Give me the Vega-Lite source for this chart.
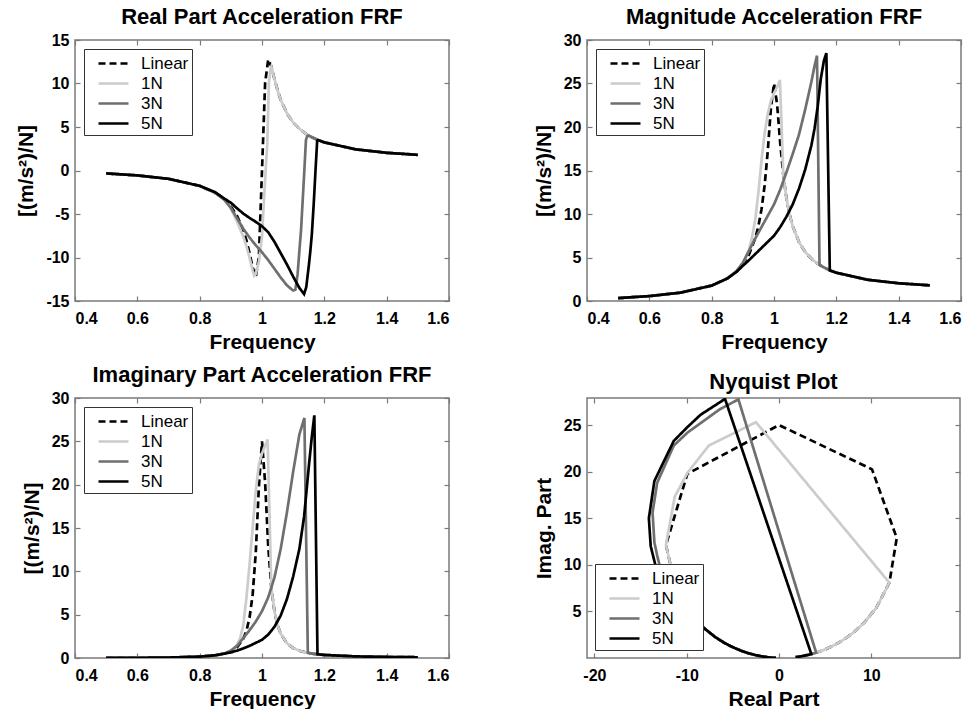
{
"$schema": "https://vega.github.io/schema/vega-lite/v6.json",
"padding": {"left": 15, "top": 5, "right": 0, "bottom": 0},
"columns": 2,
"spacing": {"row": 97, "column": 138},
"bounds": "flush",
"datasets": {
"re": [
{"s":"Linear","f":0.5,"v":-0.333},{"s":"Linear","f":0.6,"v":-0.562},{"s":"Linear","f":0.7,"v":-0.958},{"s":"Linear","f":0.8,"v":-1.764},{"s":"Linear","f":0.85,"v":-2.565},{"s":"Linear","f":0.88,"v":-3.351},{"s":"Linear","f":0.9,"v":-4.115},{"s":"Linear","f":0.92,"v":-5.211},{"s":"Linear","f":0.94,"v":-6.874},{"s":"Linear","f":0.95,"v":-8.036},{"s":"Linear","f":0.96,"v":-9.481},{"s":"Linear","f":0.97,"v":-11.126},{"s":"Linear","f":0.98,"v":-12.249},{"s":"Linear","f":0.99,"v":-9.93},{"s":"Linear","f":1.0,"v":0},{"s":"Linear","f":1.01,"v":10.07},{"s":"Linear","f":1.02,"v":12.749},{"s":"Linear","f":1.03,"v":11.951},{"s":"Linear","f":1.04,"v":10.521},{"s":"Linear","f":1.05,"v":9.21},{"s":"Linear","f":1.06,"v":8.134},{"s":"Linear","f":1.08,"v":6.567},{"s":"Linear","f":1.1,"v":5.52},{"s":"Linear","f":1.12,"v":4.783},{"s":"Linear","f":1.14,"v":4.24},{"s":"Linear","f":1.16,"v":3.825},{"s":"Linear","f":1.18,"v":3.498},{"s":"Linear","f":1.2,"v":3.234},{"s":"Linear","f":1.3,"v":2.435},{"s":"Linear","f":1.4,"v":2.035},{"s":"Linear","f":1.5,"v":1.796},
{"s":"1N","f":0.5,"v":-0.333},{"s":"1N","f":0.6,"v":-0.562},{"s":"1N","f":0.7,"v":-0.958},{"s":"1N","f":0.8,"v":-1.764},{"s":"1N","f":0.85,"v":-2.565},{"s":"1N","f":0.88,"v":-3.351},{"s":"1N","f":0.9,"v":-4.35},{"s":"1N","f":0.92,"v":-5.9},{"s":"1N","f":0.94,"v":-7.6},{"s":"1N","f":0.95,"v":-8.7},{"s":"1N","f":0.96,"v":-10.0},{"s":"1N","f":0.97,"v":-11.5},{"s":"1N","f":0.975,"v":-12.1},{"s":"1N","f":0.98,"v":-11.9},{"s":"1N","f":0.99,"v":-10.5},{"s":"1N","f":1.0,"v":-7.6},{"s":"1N","f":1.006,"v":-3.6},{"s":"1N","f":1.012,"v":0.2},{"s":"1N","f":1.017,"v":3.0},{"s":"1N","f":1.022,"v":10.0},{"s":"1N","f":1.027,"v":11.6},{"s":"1N","f":1.03,"v":11.951},{"s":"1N","f":1.04,"v":10.521},{"s":"1N","f":1.05,"v":9.21},{"s":"1N","f":1.06,"v":8.134},{"s":"1N","f":1.08,"v":6.567},{"s":"1N","f":1.1,"v":5.52},{"s":"1N","f":1.12,"v":4.783},{"s":"1N","f":1.14,"v":4.24},{"s":"1N","f":1.16,"v":3.825},{"s":"1N","f":1.18,"v":3.498},{"s":"1N","f":1.2,"v":3.234},{"s":"1N","f":1.3,"v":2.435},{"s":"1N","f":1.4,"v":2.035},{"s":"1N","f":1.5,"v":1.796},
{"s":"3N","f":0.5,"v":-0.333},{"s":"3N","f":0.6,"v":-0.562},{"s":"3N","f":0.7,"v":-0.958},{"s":"3N","f":0.8,"v":-1.764},{"s":"3N","f":0.85,"v":-2.565},{"s":"3N","f":0.88,"v":-3.4},{"s":"3N","f":0.9,"v":-4.3},{"s":"3N","f":0.92,"v":-5.5},{"s":"3N","f":0.94,"v":-6.7},{"s":"3N","f":0.96,"v":-7.7},{"s":"3N","f":0.98,"v":-8.6},{"s":"3N","f":1.0,"v":-9.4},{"s":"3N","f":1.02,"v":-10.3},{"s":"3N","f":1.04,"v":-11.3},{"s":"3N","f":1.06,"v":-12.3},{"s":"3N","f":1.08,"v":-13.2},{"s":"3N","f":1.1,"v":-13.8},{"s":"3N","f":1.107,"v":-13.7},{"s":"3N","f":1.114,"v":-12.0},{"s":"3N","f":1.12,"v":-9.2},{"s":"3N","f":1.125,"v":-7.0},{"s":"3N","f":1.13,"v":-3.8},{"s":"3N","f":1.135,"v":-0.6},{"s":"3N","f":1.141,"v":3.5},{"s":"3N","f":1.145,"v":3.95},{"s":"3N","f":1.15,"v":4.019},{"s":"3N","f":1.16,"v":3.825},{"s":"3N","f":1.18,"v":3.498},{"s":"3N","f":1.2,"v":3.234},{"s":"3N","f":1.3,"v":2.435},{"s":"3N","f":1.4,"v":2.035},{"s":"3N","f":1.5,"v":1.796},
{"s":"5N","f":0.5,"v":-0.333},{"s":"5N","f":0.6,"v":-0.562},{"s":"5N","f":0.7,"v":-0.958},{"s":"5N","f":0.8,"v":-1.764},{"s":"5N","f":0.85,"v":-2.5},{"s":"5N","f":0.88,"v":-3.25},{"s":"5N","f":0.9,"v":-3.7},{"s":"5N","f":0.92,"v":-4.35},{"s":"5N","f":0.94,"v":-4.95},{"s":"5N","f":0.96,"v":-5.45},{"s":"5N","f":0.98,"v":-5.9},{"s":"5N","f":1.0,"v":-6.4},{"s":"5N","f":1.02,"v":-7.1},{"s":"5N","f":1.04,"v":-8.2},{"s":"5N","f":1.06,"v":-9.5},{"s":"5N","f":1.08,"v":-10.8},{"s":"5N","f":1.1,"v":-12.2},{"s":"5N","f":1.12,"v":-13.5},{"s":"5N","f":1.135,"v":-14.2},{"s":"5N","f":1.142,"v":-13.4},{"s":"5N","f":1.15,"v":-11.0},{"s":"5N","f":1.155,"v":-9.3},{"s":"5N","f":1.16,"v":-7.3},{"s":"5N","f":1.166,"v":-3.8},{"s":"5N","f":1.172,"v":0.2},{"s":"5N","f":1.177,"v":3.4},{"s":"5N","f":1.18,"v":3.498},{"s":"5N","f":1.2,"v":3.234},{"s":"5N","f":1.3,"v":2.435},{"s":"5N","f":1.4,"v":2.035},{"s":"5N","f":1.5,"v":1.796}
],
"mg": [
{"s":"Linear","f":0.5,"v":0.333},{"s":"Linear","f":0.6,"v":0.562},{"s":"Linear","f":0.7,"v":0.959},{"s":"Linear","f":0.8,"v":1.771},{"s":"Linear","f":0.85,"v":2.584},{"s":"Linear","f":0.88,"v":3.392},{"s":"Linear","f":0.9,"v":4.189},{"s":"Linear","f":0.92,"v":5.359},{"s":"Linear","f":0.94,"v":7.224},{"s":"Linear","f":0.95,"v":8.625},{"s":"Linear","f":0.96,"v":10.557},{"s":"Linear","f":0.97,"v":13.31},{"s":"Linear","f":0.98,"v":17.236},{"s":"Linear","f":0.99,"v":22.115},{"s":"Linear","f":1.0,"v":25.0},{"s":"Linear","f":1.01,"v":22.607},{"s":"Linear","f":1.02,"v":18.12},{"s":"Linear","f":1.03,"v":14.429},{"s":"Linear","f":1.04,"v":11.809},{"s":"Linear","f":1.05,"v":9.953},{"s":"Linear","f":1.06,"v":8.599},{"s":"Linear","f":1.08,"v":6.785},{"s":"Linear","f":1.1,"v":5.639},{"s":"Linear","f":1.12,"v":4.856},{"s":"Linear","f":1.14,"v":4.288},{"s":"Linear","f":1.16,"v":3.859},{"s":"Linear","f":1.18,"v":3.523},{"s":"Linear","f":1.2,"v":3.253},{"s":"Linear","f":1.3,"v":2.442},{"s":"Linear","f":1.4,"v":2.038},{"s":"Linear","f":1.5,"v":1.798},
{"s":"1N","f":0.5,"v":0.333},{"s":"1N","f":0.6,"v":0.562},{"s":"1N","f":0.7,"v":0.959},{"s":"1N","f":0.8,"v":1.771},{"s":"1N","f":0.85,"v":2.584},{"s":"1N","f":0.88,"v":3.392},{"s":"1N","f":0.9,"v":4.25},{"s":"1N","f":0.92,"v":5.9},{"s":"1N","f":0.93,"v":7.4},{"s":"1N","f":0.94,"v":9.4},{"s":"1N","f":0.95,"v":12.5},{"s":"1N","f":0.96,"v":16.2},{"s":"1N","f":0.97,"v":19.3},{"s":"1N","f":0.98,"v":21.5},{"s":"1N","f":0.99,"v":23.0},{"s":"1N","f":1.0,"v":23.9},{"s":"1N","f":1.01,"v":24.6},{"s":"1N","f":1.019,"v":25.4},{"s":"1N","f":1.03,"v":14.429},{"s":"1N","f":1.04,"v":11.809},{"s":"1N","f":1.05,"v":9.953},{"s":"1N","f":1.06,"v":8.599},{"s":"1N","f":1.08,"v":6.785},{"s":"1N","f":1.1,"v":5.639},{"s":"1N","f":1.12,"v":4.856},{"s":"1N","f":1.14,"v":4.288},{"s":"1N","f":1.16,"v":3.859},{"s":"1N","f":1.18,"v":3.523},{"s":"1N","f":1.2,"v":3.253},{"s":"1N","f":1.3,"v":2.442},{"s":"1N","f":1.4,"v":2.038},{"s":"1N","f":1.5,"v":1.798},
{"s":"3N","f":0.5,"v":0.333},{"s":"3N","f":0.6,"v":0.562},{"s":"3N","f":0.7,"v":0.959},{"s":"3N","f":0.8,"v":1.771},{"s":"3N","f":0.85,"v":2.584},{"s":"3N","f":0.88,"v":3.45},{"s":"3N","f":0.9,"v":4.4},{"s":"3N","f":0.92,"v":5.8},{"s":"3N","f":0.94,"v":7.2},{"s":"3N","f":0.96,"v":8.5},{"s":"3N","f":0.98,"v":9.8},{"s":"3N","f":1.0,"v":11.1},{"s":"3N","f":1.02,"v":12.8},{"s":"3N","f":1.04,"v":14.8},{"s":"3N","f":1.06,"v":16.9},{"s":"3N","f":1.08,"v":19.1},{"s":"3N","f":1.1,"v":22.0},{"s":"3N","f":1.12,"v":25.2},{"s":"3N","f":1.13,"v":27.0},{"s":"3N","f":1.138,"v":28.2},{"s":"3N","f":1.146,"v":4.15},{"s":"3N","f":1.16,"v":3.859},{"s":"3N","f":1.18,"v":3.523},{"s":"3N","f":1.2,"v":3.253},{"s":"3N","f":1.3,"v":2.442},{"s":"3N","f":1.4,"v":2.038},{"s":"3N","f":1.5,"v":1.798},
{"s":"5N","f":0.5,"v":0.333},{"s":"5N","f":0.6,"v":0.562},{"s":"5N","f":0.7,"v":0.959},{"s":"5N","f":0.8,"v":1.771},{"s":"5N","f":0.85,"v":2.584},{"s":"5N","f":0.88,"v":3.35},{"s":"5N","f":0.9,"v":4.05},{"s":"5N","f":0.92,"v":4.7},{"s":"5N","f":0.94,"v":5.4},{"s":"5N","f":0.96,"v":6.1},{"s":"5N","f":0.98,"v":6.8},{"s":"5N","f":1.0,"v":7.5},{"s":"5N","f":1.02,"v":8.5},{"s":"5N","f":1.04,"v":9.7},{"s":"5N","f":1.06,"v":11.1},{"s":"5N","f":1.08,"v":12.9},{"s":"5N","f":1.1,"v":15.1},{"s":"5N","f":1.12,"v":17.9},{"s":"5N","f":1.13,"v":19.8},{"s":"5N","f":1.14,"v":22.3},{"s":"5N","f":1.15,"v":25.5},{"s":"5N","f":1.16,"v":27.6},{"s":"5N","f":1.168,"v":28.5},{"s":"5N","f":1.179,"v":3.51},{"s":"5N","f":1.2,"v":3.253},{"s":"5N","f":1.3,"v":2.442},{"s":"5N","f":1.4,"v":2.038},{"s":"5N","f":1.5,"v":1.798}
],
"im": [
{"s":"Linear","f":0.5,"v":0.009},{"s":"Linear","f":0.6,"v":0.021},{"s":"Linear","f":0.7,"v":0.053},{"s":"Linear","f":0.8,"v":0.157},{"s":"Linear","f":0.85,"v":0.314},{"s":"Linear","f":0.88,"v":0.523},{"s":"Linear","f":0.9,"v":0.78},{"s":"Linear","f":0.92,"v":1.249},{"s":"Linear","f":0.94,"v":2.22},{"s":"Linear","f":0.95,"v":3.132},{"s":"Linear","f":0.96,"v":4.644},{"s":"Linear","f":0.97,"v":7.304},{"s":"Linear","f":0.98,"v":12.126},{"s":"Linear","f":0.99,"v":19.76},{"s":"Linear","f":1.0,"v":25.0},{"s":"Linear","f":1.01,"v":20.24},{"s":"Linear","f":1.02,"v":12.876},{"s":"Linear","f":1.03,"v":8.085},{"s":"Linear","f":1.04,"v":5.363},{"s":"Linear","f":1.05,"v":3.774},{"s":"Linear","f":1.06,"v":2.79},{"s":"Linear","f":1.08,"v":1.705},{"s":"Linear","f":1.1,"v":1.157},{"s":"Linear","f":1.12,"v":0.842},{"s":"Linear","f":1.14,"v":0.645},{"s":"Linear","f":1.16,"v":0.514},{"s":"Linear","f":1.18,"v":0.421},{"s":"Linear","f":1.2,"v":0.353},{"s":"Linear","f":1.3,"v":0.184},{"s":"Linear","f":1.4,"v":0.119},{"s":"Linear","f":1.5,"v":0.086},
{"s":"1N","f":0.5,"v":0.009},{"s":"1N","f":0.6,"v":0.021},{"s":"1N","f":0.7,"v":0.053},{"s":"1N","f":0.8,"v":0.157},{"s":"1N","f":0.85,"v":0.314},{"s":"1N","f":0.88,"v":0.523},{"s":"1N","f":0.9,"v":0.8},{"s":"1N","f":0.92,"v":1.5},{"s":"1N","f":0.93,"v":2.3},{"s":"1N","f":0.94,"v":3.8},{"s":"1N","f":0.95,"v":6.9},{"s":"1N","f":0.96,"v":10.8},{"s":"1N","f":0.97,"v":15.0},{"s":"1N","f":0.98,"v":19.3},{"s":"1N","f":0.99,"v":22.3},{"s":"1N","f":1.0,"v":23.6},{"s":"1N","f":1.01,"v":24.5},{"s":"1N","f":1.018,"v":25.2},{"s":"1N","f":1.03,"v":8.085},{"s":"1N","f":1.04,"v":5.363},{"s":"1N","f":1.05,"v":3.774},{"s":"1N","f":1.06,"v":2.79},{"s":"1N","f":1.08,"v":1.705},{"s":"1N","f":1.1,"v":1.157},{"s":"1N","f":1.12,"v":0.842},{"s":"1N","f":1.14,"v":0.645},{"s":"1N","f":1.16,"v":0.514},{"s":"1N","f":1.18,"v":0.421},{"s":"1N","f":1.2,"v":0.353},{"s":"1N","f":1.3,"v":0.184},{"s":"1N","f":1.4,"v":0.119},{"s":"1N","f":1.5,"v":0.086},
{"s":"3N","f":0.5,"v":0.009},{"s":"3N","f":0.6,"v":0.021},{"s":"3N","f":0.7,"v":0.053},{"s":"3N","f":0.8,"v":0.157},{"s":"3N","f":0.85,"v":0.314},{"s":"3N","f":0.88,"v":0.53},{"s":"3N","f":0.9,"v":0.85},{"s":"3N","f":0.92,"v":1.4},{"s":"3N","f":0.94,"v":2.3},{"s":"3N","f":0.96,"v":3.2},{"s":"3N","f":0.98,"v":4.2},{"s":"3N","f":1.0,"v":5.4},{"s":"3N","f":1.02,"v":7.0},{"s":"3N","f":1.04,"v":9.3},{"s":"3N","f":1.06,"v":12.6},{"s":"3N","f":1.08,"v":16.8},{"s":"3N","f":1.1,"v":21.5},{"s":"3N","f":1.12,"v":25.8},{"s":"3N","f":1.136,"v":27.7},{"s":"3N","f":1.147,"v":0.6},{"s":"3N","f":1.16,"v":0.514},{"s":"3N","f":1.18,"v":0.421},{"s":"3N","f":1.2,"v":0.353},{"s":"3N","f":1.3,"v":0.184},{"s":"3N","f":1.4,"v":0.119},{"s":"3N","f":1.5,"v":0.086},
{"s":"5N","f":0.5,"v":0.009},{"s":"5N","f":0.6,"v":0.021},{"s":"5N","f":0.7,"v":0.053},{"s":"5N","f":0.8,"v":0.157},{"s":"5N","f":0.85,"v":0.314},{"s":"5N","f":0.88,"v":0.5},{"s":"5N","f":0.9,"v":0.65},{"s":"5N","f":0.92,"v":0.85},{"s":"5N","f":0.94,"v":1.1},{"s":"5N","f":0.96,"v":1.4},{"s":"5N","f":0.98,"v":1.75},{"s":"5N","f":1.0,"v":2.1},{"s":"5N","f":1.02,"v":2.7},{"s":"5N","f":1.04,"v":3.6},{"s":"5N","f":1.06,"v":4.9},{"s":"5N","f":1.08,"v":6.8},{"s":"5N","f":1.1,"v":9.4},{"s":"5N","f":1.12,"v":12.6},{"s":"5N","f":1.135,"v":16.3},{"s":"5N","f":1.15,"v":22.0},{"s":"5N","f":1.16,"v":25.6},{"s":"5N","f":1.168,"v":28.0},{"s":"5N","f":1.178,"v":0.43},{"s":"5N","f":1.2,"v":0.353},{"s":"5N","f":1.3,"v":0.184},{"s":"5N","f":1.4,"v":0.119},{"s":"5N","f":1.5,"v":0.086}
],
"ny": [
{"s":"Linear","f":0.5,"x":-0.333,"y":0.009},{"s":"Linear","f":0.6,"x":-0.562,"y":0.021},{"s":"Linear","f":0.7,"x":-0.958,"y":0.053},{"s":"Linear","f":0.8,"x":-1.764,"y":0.157},{"s":"Linear","f":0.85,"x":-2.565,"y":0.314},{"s":"Linear","f":0.88,"x":-3.351,"y":0.523},{"s":"Linear","f":0.9,"x":-4.115,"y":0.78},{"s":"Linear","f":0.92,"x":-5.211,"y":1.249},{"s":"Linear","f":0.93,"x":-5.951,"y":1.639},{"s":"Linear","f":0.94,"x":-6.874,"y":2.22},{"s":"Linear","f":0.95,"x":-8.036,"y":3.132},{"s":"Linear","f":0.96,"x":-9.481,"y":4.644},{"s":"Linear","f":0.97,"x":-11.126,"y":7.304},{"s":"Linear","f":0.98,"x":-12.249,"y":12.126},{"s":"Linear","f":0.99,"x":-9.93,"y":19.76},{"s":"Linear","f":1.0,"x":0,"y":25},{"s":"Linear","f":1.01,"x":10.07,"y":20.24},{"s":"Linear","f":1.02,"x":12.749,"y":12.876},{"s":"Linear","f":1.03,"x":11.951,"y":8.085},{"s":"Linear","f":1.04,"x":10.521,"y":5.363},{"s":"Linear","f":1.05,"x":9.21,"y":3.774},{"s":"Linear","f":1.06,"x":8.134,"y":2.79},{"s":"Linear","f":1.07,"x":7.267,"y":2.147},{"s":"Linear","f":1.08,"x":6.567,"y":1.705},{"s":"Linear","f":1.09,"x":5.994,"y":1.389},{"s":"Linear","f":1.1,"x":5.52,"y":1.157},{"s":"Linear","f":1.12,"x":4.783,"y":0.842},{"s":"Linear","f":1.14,"x":4.24,"y":0.645},{"s":"Linear","f":1.16,"x":3.825,"y":0.514},{"s":"Linear","f":1.18,"x":3.498,"y":0.421},{"s":"Linear","f":1.2,"x":3.234,"y":0.353},{"s":"Linear","f":1.3,"x":2.435,"y":0.184},{"s":"Linear","f":1.4,"x":2.035,"y":0.119},{"s":"Linear","f":1.5,"x":1.796,"y":0.086},
{"s":"1N","f":0.5,"x":-0.333,"y":0.009},{"s":"1N","f":0.6,"x":-0.562,"y":0.021},{"s":"1N","f":0.7,"x":-0.958,"y":0.053},{"s":"1N","f":0.8,"x":-1.764,"y":0.157},{"s":"1N","f":0.85,"x":-2.565,"y":0.314},{"s":"1N","f":0.88,"x":-3.351,"y":0.523},{"s":"1N","f":0.9,"x":-4.115,"y":0.78},{"s":"1N","f":0.92,"x":-5.211,"y":1.249},{"s":"1N","f":0.93,"x":-5.951,"y":1.639},{"s":"1N","f":0.94,"x":-6.874,"y":2.22},{"s":"1N","f":0.95,"x":-8.036,"y":3.132},{"s":"1N","f":0.96,"x":-9.481,"y":4.644},{"s":"1N","f":0.97,"x":-11.126,"y":7.304},{"s":"1N","f":0.98,"x":-12.249,"y":12.126},{"s":"1N","f":0.985,"x":-11.3,"y":17.3},{"s":"1N","f":0.99,"x":-9.9,"y":19.9},{"s":"1N","f":1.0,"x":-7.6,"y":22.8},{"s":"1N","f":1.018,"x":-2.5,"y":25.3},{"s":"1N","f":1.03,"x":11.951,"y":8.085},{"s":"1N","f":1.04,"x":10.521,"y":5.363},{"s":"1N","f":1.05,"x":9.21,"y":3.774},{"s":"1N","f":1.06,"x":8.134,"y":2.79},{"s":"1N","f":1.07,"x":7.267,"y":2.147},{"s":"1N","f":1.08,"x":6.567,"y":1.705},{"s":"1N","f":1.09,"x":5.994,"y":1.389},{"s":"1N","f":1.1,"x":5.52,"y":1.157},{"s":"1N","f":1.12,"x":4.783,"y":0.842},{"s":"1N","f":1.14,"x":4.24,"y":0.645},{"s":"1N","f":1.16,"x":3.825,"y":0.514},{"s":"1N","f":1.18,"x":3.498,"y":0.421},{"s":"1N","f":1.2,"x":3.234,"y":0.353},{"s":"1N","f":1.3,"x":2.435,"y":0.184},{"s":"1N","f":1.4,"x":2.035,"y":0.119},{"s":"1N","f":1.5,"x":1.796,"y":0.086},
{"s":"3N","f":0.5,"x":-0.333,"y":0.009},{"s":"3N","f":0.6,"x":-0.562,"y":0.021},{"s":"3N","f":0.7,"x":-0.958,"y":0.053},{"s":"3N","f":0.8,"x":-1.764,"y":0.157},{"s":"3N","f":0.85,"x":-2.565,"y":0.314},{"s":"3N","f":0.88,"x":-3.351,"y":0.523},{"s":"3N","f":0.9,"x":-4.115,"y":0.78},{"s":"3N","f":0.92,"x":-5.211,"y":1.249},{"s":"3N","f":0.93,"x":-5.951,"y":1.639},{"s":"3N","f":0.94,"x":-6.874,"y":2.22},{"s":"3N","f":0.95,"x":-8.036,"y":3.132},{"s":"3N","f":1.0,"x":-10.6,"y":5.2},{"s":"3N","f":1.04,"x":-12.4,"y":7.8},{"s":"3N","f":1.07,"x":-13.2,"y":11.0},{"s":"3N","f":1.08,"x":-13.5,"y":12.4},{"s":"3N","f":1.1,"x":-13.7,"y":15.6},{"s":"3N","f":1.11,"x":-13.2,"y":18.8},{"s":"3N","f":1.12,"x":-11.4,"y":22.8},{"s":"3N","f":1.125,"x":-9.9,"y":24.2},{"s":"3N","f":1.13,"x":-6.4,"y":26.7},{"s":"3N","f":1.137,"x":-4.4,"y":27.75},{"s":"3N","f":1.15,"x":4.019,"y":0.573},{"s":"3N","f":1.16,"x":3.825,"y":0.514},{"s":"3N","f":1.18,"x":3.498,"y":0.421},{"s":"3N","f":1.2,"x":3.234,"y":0.353},{"s":"3N","f":1.3,"x":2.435,"y":0.184},{"s":"3N","f":1.4,"x":2.035,"y":0.119},{"s":"3N","f":1.5,"x":1.796,"y":0.086},
{"s":"5N","f":0.5,"x":-0.333,"y":0.009},{"s":"5N","f":0.6,"x":-0.562,"y":0.021},{"s":"5N","f":0.7,"x":-0.958,"y":0.053},{"s":"5N","f":0.8,"x":-1.764,"y":0.157},{"s":"5N","f":0.85,"x":-2.565,"y":0.314},{"s":"5N","f":0.88,"x":-3.351,"y":0.523},{"s":"5N","f":0.9,"x":-4.115,"y":0.78},{"s":"5N","f":0.92,"x":-5.211,"y":1.249},{"s":"5N","f":0.93,"x":-5.951,"y":1.639},{"s":"5N","f":0.94,"x":-6.874,"y":2.22},{"s":"5N","f":0.95,"x":-8.036,"y":3.132},{"s":"5N","f":1.0,"x":-11.0,"y":5.8},{"s":"5N","f":1.05,"x":-12.7,"y":8.0},{"s":"5N","f":1.09,"x":-13.4,"y":10.0},{"s":"5N","f":1.11,"x":-13.9,"y":12.0},{"s":"5N","f":1.135,"x":-14.1,"y":15.0},{"s":"5N","f":1.142,"x":-13.5,"y":19.0},{"s":"5N","f":1.15,"x":-11.4,"y":23.3},{"s":"5N","f":1.155,"x":-9.9,"y":24.8},{"s":"5N","f":1.16,"x":-8.5,"y":26.1},{"s":"5N","f":1.167,"x":-5.85,"y":27.8},{"s":"5N","f":1.18,"x":3.498,"y":0.421},{"s":"5N","f":1.2,"x":3.234,"y":0.353},{"s":"5N","f":1.3,"x":2.435,"y":0.184},{"s":"5N","f":1.4,"x":2.035,"y":0.119},{"s":"5N","f":1.5,"x":1.796,"y":0.086}
]
},
"concat": [
{
"width": 374, "height": 261,
"title": {"text": "Real Part Acceleration FRF"},
"data": {"name": "re"},
"layer": [
{"mark": {"type": "line", "strokeWidth": 2.7, "clip": true},
"encoding": {
"x": {"field": "f", "type": "quantitative", "scale": {"domain": [0.4, 1.6], "nice": false, "zero": false}, "axis": {"title": "Frequency", "values": [0.4, 0.6, 0.8, 1, 1.2, 1.4, 1.6]}},
"y": {"field": "v", "type": "quantitative", "scale": {"domain": [-15, 15], "nice": false}, "axis": {"title": "[(m/s²)/N]", "values": [-15, -10, -5, 0, 5, 10, 15]}},
"color": {"field": "s", "type": "nominal", "scale": {"domain": ["Linear", "1N", "3N", "5N"], "range": ["#000000", "#cccccc", "#6f6f6f", "#000000"]}, "legend": {"title": null}},
"strokeDash": {"field": "s", "type": "nominal", "scale": {"domain": ["Linear", "1N", "3N", "5N"], "range": [[7, 4], [1, 0], [1, 0], [1, 0]]}, "legend": {"title": null}}
}},
{"mark": {"type": "line", "opacity": 0},
"encoding": {
"x": {"field": "f", "type": "quantitative", "scale": {"domain": [0.4, 1.6], "nice": false, "zero": false}, "axis": {"orient": "top", "labels": false, "title": null, "values": [0.4, 0.6, 0.8, 1, 1.2, 1.4, 1.6]}},
"y": {"field": "v", "type": "quantitative", "scale": {"domain": [-15, 15], "nice": false}, "axis": {"orient": "right", "labels": false, "title": null, "values": [-15, -10, -5, 0, 5, 10, 15]}}
}}
],
"resolve": {"axis": {"x": "independent", "y": "independent"}}
},
{
"width": 374, "height": 261,
"title": {"text": "Magnitude Acceleration FRF"},
"data": {"name": "mg"},
"layer": [
{"mark": {"type": "line", "strokeWidth": 2.7, "clip": true},
"encoding": {
"x": {"field": "f", "type": "quantitative", "scale": {"domain": [0.4, 1.6], "nice": false, "zero": false}, "axis": {"title": "Frequency", "values": [0.4, 0.6, 0.8, 1, 1.2, 1.4, 1.6]}},
"y": {"field": "v", "type": "quantitative", "scale": {"domain": [0, 30], "nice": false}, "axis": {"title": "[(m/s²)/N]", "values": [0, 5, 10, 15, 20, 25, 30]}},
"color": {"field": "s", "type": "nominal", "scale": {"domain": ["Linear", "1N", "3N", "5N"], "range": ["#000000", "#cccccc", "#6f6f6f", "#000000"]}, "legend": {"title": null}},
"strokeDash": {"field": "s", "type": "nominal", "scale": {"domain": ["Linear", "1N", "3N", "5N"], "range": [[7, 4], [1, 0], [1, 0], [1, 0]]}, "legend": {"title": null}}
}},
{"mark": {"type": "line", "opacity": 0},
"encoding": {
"x": {"field": "f", "type": "quantitative", "scale": {"domain": [0.4, 1.6], "nice": false, "zero": false}, "axis": {"orient": "top", "labels": false, "title": null, "values": [0.4, 0.6, 0.8, 1, 1.2, 1.4, 1.6]}},
"y": {"field": "v", "type": "quantitative", "scale": {"domain": [0, 30], "nice": false}, "axis": {"orient": "right", "labels": false, "title": null, "values": [0, 5, 10, 15, 20, 25, 30]}}
}}
],
"resolve": {"axis": {"x": "independent", "y": "independent"}}
},
{
"width": 374, "height": 260,
"title": {"text": "Imaginary Part Acceleration FRF"},
"data": {"name": "im"},
"layer": [
{"mark": {"type": "line", "strokeWidth": 2.7, "clip": true},
"encoding": {
"x": {"field": "f", "type": "quantitative", "scale": {"domain": [0.4, 1.6], "nice": false, "zero": false}, "axis": {"title": "Frequency", "values": [0.4, 0.6, 0.8, 1, 1.2, 1.4, 1.6]}},
"y": {"field": "v", "type": "quantitative", "scale": {"domain": [0, 30], "nice": false}, "axis": {"title": "[(m/s²)/N]", "values": [0, 5, 10, 15, 20, 25, 30]}},
"color": {"field": "s", "type": "nominal", "scale": {"domain": ["Linear", "1N", "3N", "5N"], "range": ["#000000", "#cccccc", "#6f6f6f", "#000000"]}, "legend": {"title": null}},
"strokeDash": {"field": "s", "type": "nominal", "scale": {"domain": ["Linear", "1N", "3N", "5N"], "range": [[7, 4], [1, 0], [1, 0], [1, 0]]}, "legend": {"title": null}}
}},
{"mark": {"type": "line", "opacity": 0},
"encoding": {
"x": {"field": "f", "type": "quantitative", "scale": {"domain": [0.4, 1.6], "nice": false, "zero": false}, "axis": {"orient": "top", "labels": false, "title": null, "values": [0.4, 0.6, 0.8, 1, 1.2, 1.4, 1.6]}},
"y": {"field": "v", "type": "quantitative", "scale": {"domain": [0, 30], "nice": false}, "axis": {"orient": "right", "labels": false, "title": null, "values": [0, 5, 10, 15, 20, 25, 30]}}
}}
],
"resolve": {"axis": {"x": "independent", "y": "independent"}}
},
{
"width": 373, "height": 260,
"title": {"text": "Nyquist Plot"},
"data": {"name": "ny"},
"layer": [
{"mark": {"type": "line", "strokeWidth": 2.7, "clip": true},
"encoding": {
"x": {"field": "x", "type": "quantitative", "scale": {"domain": [-20.8, 19.6], "nice": false, "zero": false}, "axis": {"title": "Real Part", "values": [-20, -10, 0, 10]}},
"y": {"field": "y", "type": "quantitative", "scale": {"domain": [0, 27.9], "nice": false}, "axis": {"title": "Imag. Part", "values": [5, 10, 15, 20, 25]}},
"order": {"field": "f", "type": "quantitative"},
"color": {"field": "s", "type": "nominal", "scale": {"domain": ["Linear", "1N", "3N", "5N"], "range": ["#000000", "#cccccc", "#6f6f6f", "#000000"]}, "legend": {"title": null, "orient": "bottom-left", "offset": 8}},
"strokeDash": {"field": "s", "type": "nominal", "scale": {"domain": ["Linear", "1N", "3N", "5N"], "range": [[7, 4], [1, 0], [1, 0], [1, 0]]}, "legend": {"title": null, "orient": "bottom-left", "offset": 8}}
}},
{"mark": {"type": "line", "opacity": 0},
"encoding": {
"x": {"field": "x", "type": "quantitative", "scale": {"domain": [-20.8, 19.6], "nice": false, "zero": false}, "axis": {"orient": "top", "labels": false, "title": null, "values": [-20, -10, 0, 10]}},
"y": {"field": "y", "type": "quantitative", "scale": {"domain": [0, 27.9], "nice": false}, "axis": {"orient": "right", "labels": false, "title": null, "values": [5, 10, 15, 20, 25]}},
"order": {"field": "f", "type": "quantitative"}
}}
],
"resolve": {"axis": {"x": "independent", "y": "independent"}}
}
],
"resolve": {"scale": {"color": "independent", "strokeDash": "independent"}, "legend": {"color": "independent", "strokeDash": "independent"}},
"config": {
"font": "Liberation Sans",
"view": {"stroke": "#7a7a7a", "strokeWidth": 1.5},
"axis": {"grid": false, "domain": false, "tickColor": "#7a7a7a", "tickSize": -5, "tickWidth": 1.2, "labelFont": "Liberation Sans", "labelFontSize": 16, "labelFontWeight": "bold", "labelColor": "#000000", "titleFont": "Liberation Sans", "titleFontSize": 21, "titleFontWeight": "bold", "titleColor": "#000000", "labelExpr": "datum.value < 0 ? '-' + format(-datum.value, '~g') : format(datum.value, '~g')"},
"axisX": {"labelPadding": 14, "titlePadding": 5},
"axisY": {"labelPadding": 11, "titlePadding": 9},
"title": {"fontSize": 22, "fontWeight": "bold", "font": "Liberation Sans", "frame": "group", "offset": 3, "color": "#000000"},
"legend": {"orient": "top-left", "offset": 9, "padding": 3, "strokeColor": "#333333", "fillColor": "#ffffff", "labelFont": "Liberation Sans", "labelFontSize": 17, "labelColor": "#000000", "symbolType": "M-1.5,0H1.5", "symbolSize": 400, "symbolStrokeWidth": 2.5, "symbolOffset": 15, "labelOffset": 16, "rowPadding": -2.5, "cornerRadius": 0}
}
}
